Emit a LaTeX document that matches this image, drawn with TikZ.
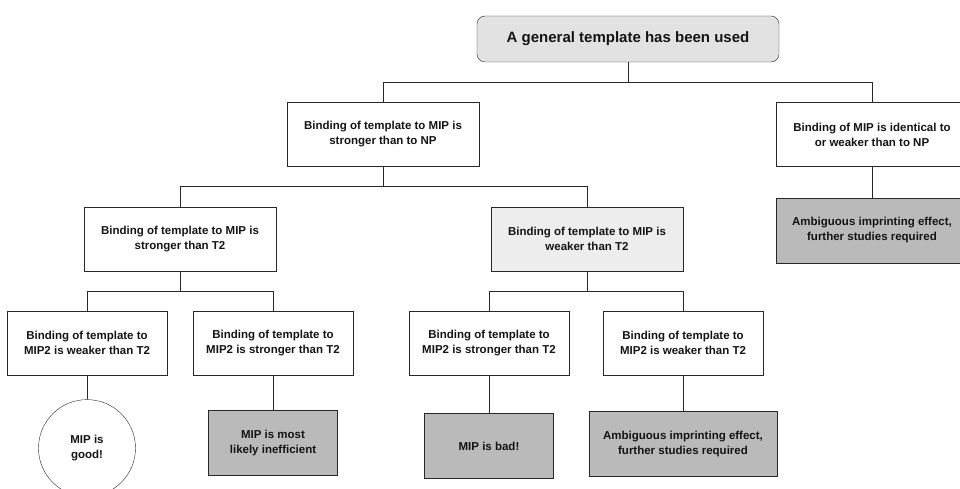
\documentclass[tikz,border=0pt]{standalone}
\usepackage{fontspec}
\setmainfont{Liberation Sans}
\usetikzlibrary{positioning}
\definecolor{topfill}{RGB}{226,226,226}
\definecolor{palefill}{RGB}{237,237,237}
\definecolor{darkfill}{RGB}{186,186,186}
\definecolor{linegray}{RGB}{40,40,40}
\tikzset{
    x=1pt,y=-1pt,line width=2pt,node distance =40pt and 40pt,
    state/.style ={rectangle, draw=linegray, align=center, text=black!92, inner sep=2pt,
        font=\bfseries\fontsize{11.5}{15}\selectfont, minimum width=192pt, minimum height=64pt},
    title/.style ={state, rounded corners=8pt, fill=topfill, minimum width=302pt,
        minimum height=46pt, font=\bfseries\fontsize{15}{18}\selectfont},
    leaf/.style ={state, minimum width=160pt},
    result/.style ={state, fill=darkfill, minimum width=129pt, minimum height=65pt},
    good/.style ={state, circle, minimum size=97pt},
    wire/.style={draw=linegray}
}

\begin{document}
\begin{tikzpicture}
        \clip (0,0) rectangle (960,489);
        \node[title] (1) at (628,39) {A general template has been used};
        \node[state] (2) [below =of 1, xshift=-245pt] {Binding of template to MIP is\\stronger than to NP};
        \node[state] (3) [below =of 1, xshift=244pt] {Binding of MIP is identical to\\or weaker than to NP};
        \node[result, minimum width=192pt] (4) [below =31pt of 3] {Ambiguous imprinting effect,\\further studies required};
        \node[state] (5) [below =of 2, xshift=-203pt] {Binding of template to MIP is\\stronger than T2};
        \node[state, fill=palefill] (6) [below =of 2, xshift=204pt] {Binding of template to MIP is\\weaker than T2};
        \node[leaf] (7) [below =of 5, xshift=-93pt] {Binding of template to\\MIP2 is weaker than T2};
        \node[leaf] (8) [below =of 5, xshift=93pt] {Binding of template to\\MIP2 is stronger than T2};
        \node[leaf] (9) [below =of 6, xshift=-98pt] {Binding of template to\\MIP2 is stronger than T2};
        \node[leaf] (10) [below =of 6, xshift=96pt] {Binding of template to\\MIP2 is weaker than T2};
        \node[good] (11) [below =24pt of 7] {MIP is\\good!};
        \node[result] (12) [below =35pt of 8] {MIP is most\\likely inefficient};
        \node[result] (13) [below =38pt of 9] {MIP is bad!};
        \node[result, minimum width=188pt] (14) [below =36pt of 10] {Ambiguous imprinting effect,\\further studies required};
        \draw[wire] (1.south) -- ++(0,20) -| (2.north);
        \draw[wire] (1.south) -- ++(0,20) -| (3.north);
        \draw[wire] (3) -- (4);
        \draw[wire] (2.south) -- ++(0,20) -| (5.north);
        \draw[wire] (2.south) -- ++(0,20) -| (6.north);
        \draw[wire] (5.south) -- ++(0,20) -| (7.north);
        \draw[wire] (5.south) -- ++(0,20) -| (8.north);
        \draw[wire] (6.south) -- ++(0,20) -| (9.north);
        \draw[wire] (6.south) -- ++(0,20) -| (10.north);
        \draw[wire] (7) -- (11);
        \draw[wire] (8) -- (12);
        \draw[wire] (9) -- (13);
        \draw[wire] (10) -- (14);

    \end{tikzpicture}
\end{document}
